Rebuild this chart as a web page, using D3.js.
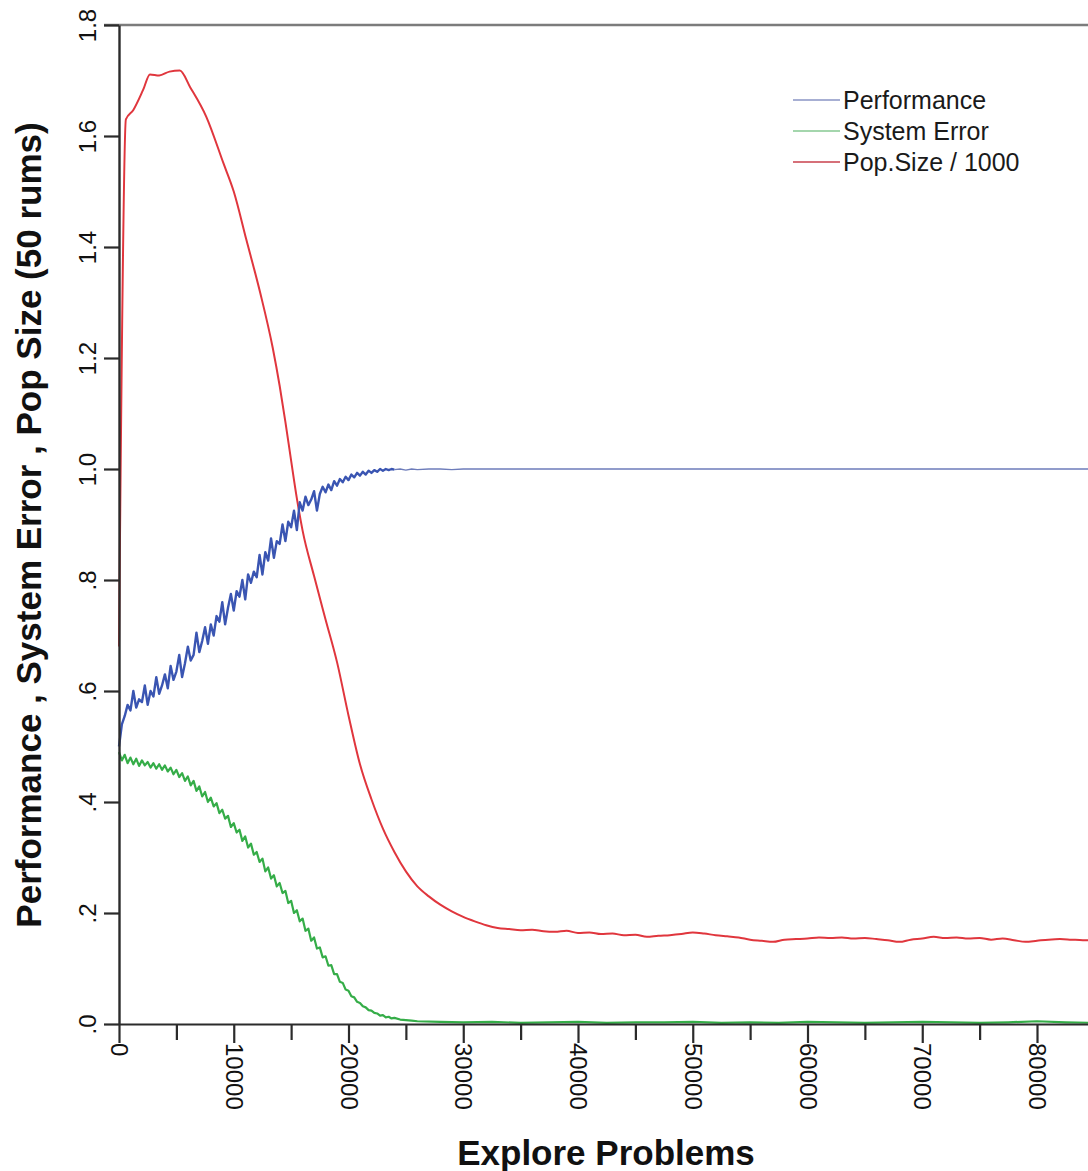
<!DOCTYPE html>
<html>
<head>
<meta charset="utf-8">
<script src="https://cdn.jsdelivr.net/npm/d3@7"></script>
<style>
  body { margin: 0; background: #fff; }
  svg text { font-family: "Liberation Sans", Arial, sans-serif; fill: #111; }
</style>
</head>
<body>
<div id="chart-area"></div>
<script>
// x positions of the early (noisy) samples
var sampleGrid = d3.range(0, 24001, 250);

var performanceEarly = [
  0.50, 0.54, 0.555, 0.575, 0.565, 0.60, 0.57, 0.585,
  0.58, 0.61, 0.575, 0.60, 0.59, 0.625, 0.595, 0.61,
  0.63, 0.605, 0.645, 0.62, 0.635, 0.665, 0.625, 0.65,
  0.68, 0.655, 0.665, 0.705, 0.67, 0.69, 0.715, 0.685,
  0.72, 0.70, 0.735, 0.725, 0.76, 0.72, 0.75, 0.775,
  0.745, 0.78, 0.77, 0.80, 0.765, 0.81, 0.795, 0.815,
  0.805, 0.845, 0.81, 0.85, 0.835, 0.875, 0.84, 0.87,
  0.865, 0.90, 0.87, 0.905, 0.895, 0.925, 0.89, 0.94,
  0.925, 0.95, 0.935, 0.945, 0.96, 0.925, 0.955, 0.968,
  0.958, 0.972, 0.962, 0.978, 0.97, 0.982, 0.976, 0.986,
  0.98, 0.99, 0.985, 0.993, 0.988, 0.995, 0.99, 0.997,
  0.993, 0.998, 0.995, 1.0, 0.997, 1.0, 0.998, 1.0,
  0.999
];
var performanceLateX = [24000, 24500, 25000, 25500, 26000, 27000, 28000, 29000, 30000, 35000, 40000, 50000, 60000, 70000, 80000, 90000, 100000];
var performanceLate = [0.999, 1.0, 0.998, 1.0, 0.999, 1.0, 1.0, 0.999, 1.0, 1.0, 1.0, 1.0, 1.0, 1.0, 1.0, 1.0, 1.0];

var errorEarly = [
  0.49, 0.475, 0.485, 0.47, 0.48, 0.468, 0.478, 0.465,
  0.475, 0.466, 0.472, 0.462, 0.47, 0.46, 0.468, 0.458,
  0.466, 0.455, 0.462, 0.45, 0.458, 0.445, 0.452, 0.438,
  0.446, 0.43, 0.438, 0.42, 0.428, 0.41, 0.418, 0.40,
  0.408, 0.392, 0.398, 0.38, 0.386, 0.37, 0.375, 0.355,
  0.362, 0.345, 0.35, 0.33, 0.338, 0.318, 0.325, 0.305,
  0.31, 0.292, 0.298, 0.275, 0.282, 0.262, 0.268, 0.248,
  0.254, 0.236, 0.24, 0.218, 0.222, 0.20, 0.205, 0.185,
  0.19, 0.168, 0.172, 0.15, 0.156, 0.136, 0.138, 0.12,
  0.122, 0.105, 0.106, 0.09, 0.09, 0.076, 0.074, 0.062,
  0.06, 0.05, 0.048, 0.04, 0.038, 0.032, 0.03, 0.025,
  0.024, 0.02, 0.019, 0.015, 0.016, 0.012, 0.013, 0.01,
  0.011
];
var errorLateX = [24500, 25000, 25500, 26000, 28000, 30000, 32500, 35000, 37500, 40000, 42500, 45000, 47500, 50000, 52500, 55000, 57500, 60000, 62500, 65000, 67500, 70000, 72500, 75000, 77500, 80000, 82500, 85000, 87500, 90000];
var errorLate = [0.008, 0.007, 0.006, 0.005, 0.004, 0.003, 0.004, 0.002, 0.003, 0.004, 0.002, 0.003, 0.003, 0.004, 0.002, 0.003, 0.002, 0.004, 0.003, 0.002, 0.003, 0.004, 0.003, 0.002, 0.003, 0.005, 0.003, 0.002, 0.003, 0.003];

var popX = [0, 600, 1250, 2100, 2700, 3500, 4400, 5300, 6200, 7600, 9100, 10000, 11100, 12300, 13400, 14000, 14500, 15000, 15500, 16000, 17000, 18000, 19000, 20000, 21000, 22000, 23000, 24000, 25000, 26000, 27000, 28000, 29000, 30000, 31000, 32000, 33000, 34000, 35000, 36000, 37000, 38000, 39000, 40000, 41000, 42000, 43000, 44000, 45000, 46000, 47000, 48000, 49000, 50000, 51000, 52000, 53000, 54000, 55000, 56000, 57000, 58000, 59000, 60000, 61000, 62000, 63000, 64000, 65000, 66000, 67000, 68000, 69000, 70000, 71000, 72000, 73000, 74000, 75000, 76000, 77000, 78000, 79000, 80000, 81000, 82000, 83000, 84000, 85000, 86000, 88000, 90000];
var popSize = [0.68, 1.63, 1.647, 1.683, 1.711, 1.709, 1.716, 1.718, 1.688, 1.635, 1.551, 1.50, 1.413, 1.318, 1.218, 1.15, 1.085, 1.015, 0.947, 0.889, 0.807, 0.729, 0.652, 0.556, 0.468, 0.405, 0.352, 0.31, 0.275, 0.248, 0.23, 0.215, 0.203, 0.193, 0.185, 0.178, 0.173, 0.171, 0.169, 0.17, 0.167, 0.166, 0.168, 0.164, 0.165, 0.162, 0.163, 0.16, 0.161, 0.157, 0.159, 0.16, 0.162, 0.165, 0.163, 0.16, 0.158, 0.156, 0.152, 0.15, 0.148, 0.152, 0.153, 0.154, 0.156, 0.155, 0.156, 0.154, 0.155, 0.153, 0.151, 0.148, 0.152, 0.154, 0.157, 0.155, 0.156, 0.154, 0.155, 0.152, 0.154, 0.151, 0.148, 0.15, 0.152, 0.153, 0.152, 0.151, 0.151, 0.152, 0.151, 0.152];

var xMajor = [0, 10000, 20000, 30000, 40000, 50000, 60000, 70000, 80000];
var xMinor = [5000, 15000, 25000, 35000, 45000, 55000, 65000, 75000, 85000];
var yTicks = [0, 0.2, 0.4, 0.6, 0.8, 1.0, 1.2, 1.4, 1.6, 1.8];
var legendNames = ["Performance", "System Error", "Pop.Size / 1000"];

var W = 1088, H = 1171;
var colors = { perf: "#3a55b2", perfFlat: "#6d7cba", err: "#35ad48", pop: "#e0363d" };
var legendColors = ["#8a94c4", "#86c992", "#c8404c"];

var x = d3.scaleLinear().domain([0, 100000]).range([119, 1266.5]);
var y = d3.scaleLinear().domain([0, 1.8]).range([1024, 25]);

var svg = d3.select("#chart-area").append("svg")
  .attr("width", W).attr("height", H)
  .attr("xmlns", "http://www.w3.org/2000/svg");

var line = d3.line()
  .x(function (d) { return x(d[0]); })
  .y(function (d) { return y(d[1]); });

// lines
svg.append("path").datum(d3.zip(popX, popSize))
  .attr("fill", "none").attr("stroke", colors.pop).attr("stroke-width", 2)
  .attr("stroke-linejoin", "round").attr("d", line.curve(d3.curveMonotoneX));
line.curve(d3.curveLinear);

svg.append("path").datum(d3.zip(performanceLateX, performanceLate))
  .attr("fill", "none").attr("stroke", colors.perfFlat).attr("stroke-width", 1.3)
  .attr("d", line);
svg.append("path").datum(d3.zip(sampleGrid, performanceEarly))
  .attr("fill", "none").attr("stroke", colors.perf).attr("stroke-width", 2.4)
  .attr("stroke-linejoin", "round").attr("d", line);

svg.append("path").datum(d3.zip(sampleGrid, errorEarly).concat(d3.zip(errorLateX, errorLate)))
  .attr("fill", "none").attr("stroke", colors.err).attr("stroke-width", 2.2)
  .attr("stroke-linejoin", "round").attr("d", line);

// top border
svg.append("line")
  .attr("x1", 104).attr("x2", W).attr("y1", y(1.8)).attr("y2", y(1.8))
  .attr("stroke", "#7c7c7c").attr("stroke-width", 2.5);

// x axis
var xAxis = d3.axisBottom(x)
  .tickValues(xMajor.concat(xMinor))
  .tickSize(18).tickSizeOuter(0)
  .tickFormat(function (d) { return xMajor.indexOf(d) >= 0 ? d : ""; });
var gx = svg.append("g").attr("transform", "translate(0," + y(0) + ")").call(xAxis);
gx.select(".domain").attr("stroke", "#2b2b2b").attr("stroke-width", 2.2);
gx.selectAll(".tick line").attr("stroke", "#2b2b2b").attr("stroke-width", 2.2)
  .attr("y2", function (d) { return xMajor.indexOf(d) >= 0 ? 19 : 16; });
gx.selectAll(".tick text")
  .attr("transform", "rotate(90)")
  .attr("text-anchor", "start")
  .attr("x", 19).attr("y", 0).attr("dy", "0.35em")
  .style("font-size", "24px").style("fill", "#111");

// y axis
var yAxis = d3.axisLeft(y)
  .tickValues(yTicks).tickSize(15).tickSizeOuter(0)
  .tickFormat(function (d) { return d < 1 ? "." + Math.round(d * 10) : d3.format(".1f")(d); });
var gy = svg.append("g").attr("transform", "translate(" + x(0) + ",0)").call(yAxis);
gy.select(".domain").attr("stroke", "#2b2b2b").attr("stroke-width", 2.4);
gy.selectAll(".tick line").attr("stroke", "#2b2b2b").attr("stroke-width", 2.2);
gy.selectAll(".tick text")
  .attr("transform", "rotate(-90)")
  .attr("text-anchor", "middle")
  .attr("x", 0).attr("y", -23).attr("dy", 0)
  .style("font-size", "24px").style("fill", "#111");

// axis titles
svg.append("text")
  .attr("x", 606).attr("y", 1165)
  .attr("text-anchor", "middle")
  .style("font-size", "35px").style("font-weight", "bold")
  .text("Explore Problems");

svg.append("text")
  .attr("transform", "translate(41,525) rotate(-90)")
  .attr("text-anchor", "middle")
  .style("font-size", "35px").style("font-weight", "bold")
  .text("Performance , System Error , Pop Size (50 rums)");

// legend
var legend = svg.append("g").attr("transform", "translate(793,100)");
legend.selectAll("line").data(legendNames).enter().append("line")
  .attr("x1", 0).attr("x2", 47)
  .attr("y1", function (d, i) { return i * 31; })
  .attr("y2", function (d, i) { return i * 31; })
  .attr("stroke", function (d, i) { return legendColors[i]; })
  .attr("stroke-width", 1.6);
legend.selectAll("text").data(legendNames).enter().append("text")
  .attr("x", 50)
  .attr("y", function (d, i) { return i * 31 + 9; })
  .style("font-size", "25px")
  .style("fill", "#1a1a1a")
  .text(function (d) { return d; });
</script>
</body>
</html>
